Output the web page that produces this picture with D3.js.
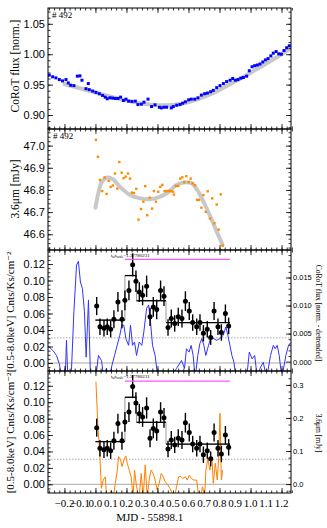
<!DOCTYPE html>
<html lang="en">
<head>
<meta charset="utf-8">
<title>#492 light curves</title>
<script src="https://cdn.jsdelivr.net/npm/d3@7"></script>
<style>
body { margin: 0; background: #fff; }
svg { font-family: "Liberation Serif", "DejaVu Serif", serif; }
.axis path, .axis line { stroke: #000; stroke-width: 0.8; }
.axis text { fill: #000; }
</style>
</head>
<body>
<div id="chart"></div>
<script>
// ---- data ----
var xTickLabels = [-0.2, -0.1, 0.0, 0.1, 0.2, 0.3, 0.4, 0.5, 0.6, 0.7, 0.8, 0.9, 1.0, 1.1, 1.2];

// panel 1: CoRoT flux (normalised)
var corotT = [-0.298,-0.276,-0.255,-0.233,-0.212,-0.190,-0.175,-0.160,-0.139,-0.117,-0.100,-0.087,-0.061,-0.046,-0.040,-0.018,0.003,0.025,0.046,0.063,0.076,0.094,0.111,0.128,0.145,0.162,0.180,0.197,0.214,0.235,0.257,0.274,0.296,0.313,0.339,0.362,0.384,0.412,0.425,0.442,0.459,0.489,0.502,0.524,0.545,0.562,0.580,0.601,0.618,0.640,0.661,0.683,0.704,0.722,0.743,0.760,0.782,0.803,0.825,0.846,0.868,0.885,0.902,0.919,0.937,0.954,0.975,0.992,1.010,1.027,1.044,1.061,1.079,1.096,1.113,1.131,1.147,1.165,1.182,1.199,1.216,1.233,1.250];
var corotFlux = [0.9656,0.9628,0.9611,0.9583,0.9561,0.9583,0.9528,0.9489,0.9483,0.9639,0.9644,0.9572,0.9433,0.9517,0.9417,0.9394,0.9372,0.9350,0.9322,0.9294,0.9267,0.9283,0.9278,0.9272,0.9272,0.9294,0.9239,0.9261,0.9228,0.9222,0.9228,0.9172,0.9178,0.9211,0.9261,0.9139,0.9167,0.9128,0.9117,0.9128,0.9128,0.9117,0.9139,0.9161,0.9172,0.9194,0.9217,0.9250,0.9261,0.9261,0.9283,0.9328,0.9350,0.9361,0.9383,0.9406,0.9450,0.9483,0.9517,0.9550,0.9572,0.9600,0.9572,0.9583,0.9606,0.9617,0.9639,0.9728,0.9794,0.9811,0.9822,0.9839,0.9872,0.9906,0.9928,0.9972,1.0017,1.0044,1.0006,1.0000,1.0061,1.0106,1.0139];
var corotModelT = [-0.20,-0.10,0.00,0.10,0.20,0.30,0.42,0.55,0.65,0.75,0.85,0.95,1.05,1.15,1.26];
var corotModel = [0.951,0.944,0.937,0.930,0.924,0.919,0.916,0.918,0.925,0.935,0.948,0.962,0.977,0.992,1.010];

// panel 2: Spitzer 3.6 micron
var irT = [0.003,0.016,0.029,0.044,0.059,0.072,0.085,0.098,0.113,0.126,0.141,0.154,0.169,0.182,0.195,0.210,0.223,0.235,0.248,0.263,0.278,0.294,0.309,0.321,0.334,0.350,0.365,0.377,0.390,0.405,0.418,0.431,0.446,0.459,0.474,0.487,0.500,0.506,0.519,0.534,0.547,0.560,0.573,0.586,0.601,0.614,0.627,0.642,0.655,0.668,0.683,0.696,0.711,0.724,0.739,0.753,0.767,0.782,0.795,0.808,0.820];
var irFlux = [47.026,46.950,46.845,46.795,46.856,46.782,46.841,46.814,46.820,46.874,46.806,46.926,46.878,46.853,46.860,46.874,46.851,46.788,46.786,46.805,46.666,46.714,46.747,46.817,46.686,46.765,46.716,46.795,46.747,46.792,46.814,46.823,46.795,46.795,46.795,46.795,46.792,46.779,46.818,46.818,46.851,46.857,46.835,46.862,46.835,46.851,46.830,46.821,46.755,46.755,46.720,46.777,46.701,46.794,46.671,46.762,46.650,46.734,46.621,46.780,46.549];
var irModelT = [0.0,0.02,0.04,0.075,0.113,0.157,0.223,0.29,0.35,0.41,0.46,0.524,0.578,0.62,0.665,0.707,0.75,0.782,0.82];
var irModel = [46.720,46.790,46.835,46.856,46.848,46.815,46.777,46.762,46.758,46.768,46.785,46.823,46.835,46.830,46.790,46.732,46.665,46.612,46.552];

// panels 3 and 4: X-ray rate [0.5-8.0 keV]
var xrT = [0.008,0.029,0.055,0.076,0.098,0.119,0.145,0.171,0.190,0.216,0.240,0.261,0.283,0.304,0.330,0.352,0.373,0.395,0.420,0.442,0.468,0.489,0.511,0.534,0.558,0.580,0.605,0.627,0.653,0.674,0.696,0.721,0.743,0.765,0.790,0.812,0.838,0.859];
var xrRate = [0.069,0.044,0.042,0.044,0.041,0.053,0.074,0.053,0.076,0.088,0.119,0.099,0.086,0.082,0.093,0.056,0.068,0.065,0.088,0.081,0.043,0.054,0.048,0.056,0.054,0.075,0.063,0.049,0.044,0.049,0.036,0.041,0.031,0.063,0.044,0.037,0.060,0.045];
var xrErr = [0.011,0.010,0.010,0.010,0.010,0.011,0.012,0.011,0.012,0.012,0.014,0.013,0.012,0.012,0.013,0.011,0.012,0.012,0.012,0.012,0.010,0.011,0.010,0.011,0.011,0.012,0.011,0.010,0.010,0.010,0.010,0.010,0.009,0.011,0.010,0.010,0.011,0.010];
var binEdges = [0.0, 0.19, 0.265, 0.455, 0.868];
var binRates = [0.052, 0.106, 0.0755, 0.049];
var flareSpan = [0.19, 0.868];
var flareLevel = 0.1257;
var quiescent = 0.0305;

// panel 3: detrended CoRoT (right axis)
var detT = [-0.298,-0.272,-0.251,-0.233,-0.216,-0.195,-0.187,-0.178,-0.157,-0.139,-0.122,-0.110,-0.097,-0.084,-0.071,-0.060,-0.045,-0.032,-0.015,0.002,0.019,0.039,0.054,0.071,0.088,0.106,0.123,0.140,0.157,0.170,0.183,0.196,0.214,0.226,0.239,0.252,0.265,0.282,0.299,0.312,0.330,0.343,0.355,0.368,0.385,0.402,0.437,0.480,0.523,0.555,0.574,0.587,0.604,0.617,0.630,0.643,0.660,0.673,0.686,0.699,0.712,0.729,0.746,0.764,0.781,0.802,0.824,0.841,0.854,0.867,0.880,0.893,0.906,0.932,0.975,0.992,1.010,1.027,1.044,1.061,1.082,1.104,1.129,1.147,1.159,1.172,1.185,1.202,1.228,1.245,1.260];
var detFlux = [0.0026,0.0019,0.0011,-0.0004,-0.003,-0.003,0.0038,-0.003,-0.003,0.0089,0.0172,0.0179,0.0142,0.0130,0.0089,0.0008,0.0110,-0.003,-0.003,-0.003,0.0011,0.0002,-0.003,-0.0012,-0.003,-0.0007,0.0011,0.0029,0.0047,0.0065,0.0065,0.0041,0.0029,0.0065,0.0029,0.0035,0.0011,0.0035,0.0029,0.0053,0.0095,0.0101,0.0071,0.0029,0.0011,-0.003,-0.003,-0.003,-0.0012,0.0002,-0.0012,0.0023,0.0017,0.0029,0.0011,-0.003,0.0011,0.0032,0.0041,0.0029,0.0011,0.0029,0.0044,0.0041,0.0038,0.0041,0.0047,0.0062,0.0047,0.0029,0.0011,-0.0001,-0.003,-0.003,-0.003,0.0017,0.0005,0.0011,-0.003,-0.0012,-0.0001,-0.003,0.0011,0.0029,0.0023,0.0029,0.0011,-0.003,0.0011,0.0029,0.0034];

// panel 4: detrended 3.6 micron (right axis)
var irDetT = [0.003,0.016,0.029,0.038,0.050,0.063,0.072,0.085,0.102,0.115,0.128,0.141,0.149,0.162,0.171,0.184,0.196,0.205,0.218,0.230,0.243,0.252,0.265,0.282,0.295,0.308,0.321,0.334,0.346,0.359,0.372,0.385,0.398,0.411,0.424,0.437,0.450,0.467,0.480,0.497,0.510,0.523,0.536,0.549,0.562,0.580,0.592,0.605,0.618,0.635,0.653,0.666,0.678,0.691,0.704,0.712,0.725,0.738,0.751,0.760,0.773,0.786,0.795,0.803,0.812,0.820];
var irDet = [0.310,0.174,0.083,-0.013,0.012,0.022,-0.04,-0.04,-0.018,-0.04,0.002,0.042,0.083,0.073,0.053,0.073,0.085,0.063,0.042,0.022,-0.04,0.042,-0.008,-0.04,0.032,-0.04,0.058,-0.04,0.012,0.042,0.032,0.012,-0.018,0.002,0.032,0.022,0.007,-0.003,-0.013,-0.028,-0.04,-0.008,0.022,0.024,0.017,0.022,0.012,0.027,0.017,0.012,0.012,-0.04,-0.04,-0.008,-0.04,0.042,0.078,0.042,0.083,0.002,0.063,0.012,0.083,0.214,0.012,0.042];

// ---- layout ----
var W = 327, H = 528;
var L = 48, R = 291;
var tops = [8, 129, 250, 371], bots = [129, 250, 371, 493];

var svg = d3.select("#chart").append("svg")
  .attr("width", W).attr("height", H);

var x = d3.scaleLinear().domain([-0.306, 1.261]).range([L, R]);

var y1 = d3.scaleLinear().domain([0.877, 1.076]).range([bots[0], tops[0]]);
var y2 = d3.scaleLinear().domain([46.529, 47.075]).range([bots[1], tops[1]]);
var y3 = d3.scaleLinear().domain([-0.0097, 0.137]).range([bots[2], tops[2]]);
var y3r = d3.scaleLinear().domain([-0.00167, 0.0199]).range([bots[2], tops[2]]);
var y4 = d3.scaleLinear().domain([-0.0106, 0.138]).range([bots[3], tops[3]]);
var y4r = d3.scaleLinear().domain([-0.027, 0.342]).range([bots[3], tops[3]]);

// clip paths, one per panel
var defs = svg.append("defs");
tops.forEach(function(t, i) {
  defs.append("clipPath").attr("id", "clip" + i)
    .append("rect").attr("x", L).attr("y", t).attr("width", R - L).attr("height", bots[i] - t);
});

function noDomain(g) { g.select(".domain").remove(); }

// draws x ticks top/bottom and left (and mirrored or right) y ticks
function frame(i, y, major, minor, fmt, yr, rMajor, rMinor, rFmt) {
  var g = svg.append("g");
  var t = tops[i], b = bots[i];
  var xMajor = d3.range(-0.2, 1.21, 0.2);
  var xMinor = d3.range(-0.3, 1.27, 0.2 / 6);
  [b, t].forEach(function(pos, k) {
    var ax = k === 0 ? d3.axisBottom(x) : d3.axisTop(x);
    g.append("g").attr("class", "axis").attr("transform", "translate(0," + pos + ")")
      .call(ax.tickValues(xMajor).tickSize(-5).tickFormat("")).call(noDomain);
    var ax2 = k === 0 ? d3.axisBottom(x) : d3.axisTop(x);
    g.append("g").attr("class", "axis").attr("transform", "translate(0," + pos + ")")
      .call(ax2.tickValues(xMinor).tickSize(-2.5).tickFormat("")).call(noDomain);
  });
  g.append("g").attr("class", "axis").attr("transform", "translate(" + L + ",0)")
    .call(d3.axisLeft(y).tickValues(major).tickSizeInner(-5).tickSizeOuter(0).tickPadding(3).tickFormat(fmt))
    .call(noDomain)
    .selectAll("text").attr("font-size", 11).attr("x", -3);
  g.append("g").attr("class", "axis").attr("transform", "translate(" + L + ",0)")
    .call(d3.axisLeft(y).tickValues(minor).tickSize(-2.5).tickFormat("")).call(noDomain);
  var ry = yr || y;
  var rmaj = rMajor || major, rmin = rMinor || minor;
  var ra = g.append("g").attr("class", "axis").attr("transform", "translate(" + R + ",0)")
    .call(d3.axisRight(ry).tickValues(rmaj).tickSizeInner(-5).tickSizeOuter(0).tickPadding(3)
      .tickFormat(yr ? rFmt : ""))
    .call(noDomain);
  ra.selectAll("text").attr("font-size", 7.5).attr("x", 2);
  g.append("g").attr("class", "axis").attr("transform", "translate(" + R + ",0)")
    .call(d3.axisRight(ry).tickValues(rmin).tickSize(-2.5).tickFormat("")).call(noDomain);
  g.append("rect").attr("x", L).attr("y", t).attr("width", R - L).attr("height", b - t)
    .attr("fill", "none").attr("stroke", "#000").attr("stroke-width", 1);
}

function ylabel(text, cy, xpos, size, rot) {
  svg.append("text")
    .attr("transform", "translate(" + xpos + "," + cy + ") rotate(" + rot + ")")
    .attr("text-anchor", "middle").attr("font-size", size).text(text);
}

var grey = "#c8c8c8";

// ---- panel 1 ----
var p1 = svg.append("g").attr("clip-path", "url(#clip0)");
p1.append("path")
  .attr("d", d3.line().curve(d3.curveCatmullRom).x(function(d, i) { return x(corotModelT[i]); })
    .y(function(d) { return y1(d); })(corotModel))
  .attr("fill", "none").attr("stroke", grey).attr("stroke-width", 4).attr("stroke-linecap", "round");
p1.selectAll("rect.pt").data(corotFlux).enter().append("rect")
  .attr("x", function(d, i) { return x(corotT[i]) - 1.5; })
  .attr("y", function(d) { return y1(d) - 1.5; })
  .attr("width", 3).attr("height", 3).attr("fill", "#0000ff");
frame(0, y1, [0.90, 0.95, 1.00, 1.05], d3.range(0.88, 1.075, 0.01), d3.format(".2f"));
ylabel("CoRoT flux [norm.]", 66, 19, 11.5, -90);
svg.append("text").attr("x", 52).attr("y", 18).attr("font-size", 9).text("# 492");

// ---- panel 2 ----
var p2 = svg.append("g").attr("clip-path", "url(#clip1)");
p2.append("path")
  .attr("d", d3.line().curve(d3.curveCatmullRom).x(function(d, i) { return x(irModelT[i]); })
    .y(function(d) { return y2(d); })(irModel))
  .attr("fill", "none").attr("stroke", grey).attr("stroke-width", 4).attr("stroke-linecap", "round");
p2.selectAll("rect.pt").data(irFlux).enter().append("rect")
  .attr("x", function(d, i) { return x(irT[i]) - 1.2; })
  .attr("y", function(d) { return y2(d) - 1.2; })
  .attr("width", 2.4).attr("height", 2.4).attr("fill", "#ff8c00");
frame(1, y2, [46.6, 46.7, 46.8, 46.9, 47.0], d3.range(46.54, 47.07, 0.02), d3.format(".1f"));
ylabel("3.6\u03bcm [mJy]", 189, 19, 11.5, -90);
svg.append("text").attr("x", 53).attr("y", 139).attr("font-size", 9).text("# 492");

// ---- X-ray panels ----
function xrayPanel(i, y, yr, lineT, lineV, colour) {
  var g = svg.append("g").attr("clip-path", "url(#clip" + i + ")");
  g.append("line").attr("x1", L).attr("x2", R).attr("y1", y(0)).attr("y2", y(0))
    .attr("stroke", "#aaa").attr("stroke-width", 1);
  g.append("line").attr("x1", L).attr("x2", R).attr("y1", y(quiescent)).attr("y2", y(quiescent))
    .attr("stroke", "#999").attr("stroke-width", 0.8).attr("stroke-dasharray", "1.5,1.5");
  g.append("path")
    .attr("d", d3.line().x(function(d, k) { return x(lineT[k]); }).y(function(d) { return yr(d); })(lineV))
    .attr("fill", "none").attr("stroke", colour).attr("stroke-width", 1);
  // binned step
  var steps = binRates.concat([binRates[binRates.length - 1]]);
  g.append("path")
    .attr("d", d3.line().curve(d3.curveStepAfter).x(function(d, k) { return x(binEdges[k]); })
      .y(function(d) { return y(d); })(steps))
    .attr("fill", "none").attr("stroke", "#999").attr("stroke-width", 1);
  g.selectAll("line.bin").data(binRates).enter().append("line")
    .attr("x1", function(d, k) { return x(binEdges[k]); })
    .attr("x2", function(d, k) { return x(binEdges[k + 1]); })
    .attr("y1", function(d) { return y(d); }).attr("y2", function(d) { return y(d); })
    .attr("stroke", "#000").attr("stroke-width", 1.3);
  // error bars and points
  g.selectAll("line.err").data(xrRate).enter().append("line")
    .attr("x1", function(d, k) { return x(xrT[k]); }).attr("x2", function(d, k) { return x(xrT[k]); })
    .attr("y1", function(d, k) { return y(d - xrErr[k]); })
    .attr("y2", function(d, k) { return y(d + xrErr[k]); })
    .attr("stroke", "#000").attr("stroke-width", 1.4);
  g.selectAll("circle").data(xrRate).enter().append("circle")
    .attr("cx", function(d, k) { return x(xrT[k]); }).attr("cy", function(d) { return y(d); })
    .attr("r", 2.5).attr("fill", "#000");
  // flare interval
  g.append("line").attr("x1", x(flareSpan[0])).attr("x2", x(flareSpan[1]))
    .attr("y1", y(flareLevel)).attr("y2", y(flareLevel))
    .attr("stroke", "#ff55ff").attr("stroke-width", 1.3);
  var lab = svg.append("text").attr("x", x(0.1)).attr("y", tops[i] + 6.5).attr("font-size", 5);
  lab.append("tspan").text("t");
  lab.append("tspan").attr("font-size", 3.5).attr("dy", 1).text("ai");
  lab.append("tspan").attr("dy", -1).text("t");
  lab.append("tspan").attr("font-size", 3.5).attr("dy", 1).text("scale");
  lab.append("tspan").attr("dy", -1).text("=1.37780231");
}

xrayPanel(2, y3, y3r, detT, detFlux, "#3333ff");
frame(2, y3, [0.00, 0.02, 0.04, 0.06, 0.08, 0.10, 0.12], d3.range(-0.005, 0.136, 0.005), d3.format(".2f"),
  y3r, [0.000, 0.005, 0.010, 0.015], d3.range(0.001, 0.0199, 0.001), d3.format(".3f"));
ylabel("[0.5-8.0keV] Cnts/Ks/cm\u207b\u00b2", 312, 14, 11, -90);
ylabel("CoRoT flux [norm. - detrended]", 313, 316, 7.5, 90);

xrayPanel(3, y4, y4r, irDetT, irDet, "#ff8000");
frame(3, y4, [0.00, 0.02, 0.04, 0.06, 0.08, 0.10, 0.12], d3.range(-0.005, 0.137, 0.005), d3.format(".2f"),
  y4r, [0.0, 0.1, 0.2, 0.3], d3.range(-0.02, 0.34, 0.02), d3.format(".1f"));
ylabel("[0.5-8.0keV] Cnts/Ks/cm\u207b\u00b2", 433, 14, 11, -90);
ylabel("3.6\u03bcm [mJy]", 433, 316, 7.5, 90);

// x tick labels and title
svg.append("g").selectAll("text").data(xTickLabels).enter().append("text")
  .attr("x", function(d) { return x(d); }).attr("y", 507)
  .attr("text-anchor", "middle").attr("font-size", 11)
  .text(function(d) { return d3.format(".1f")(d); });
svg.append("text").attr("x", x(0.35)).attr("y", 521).attr("text-anchor", "middle")
  .attr("font-size", 11).text("MJD - 55898.1");
</script>
</body>
</html>
